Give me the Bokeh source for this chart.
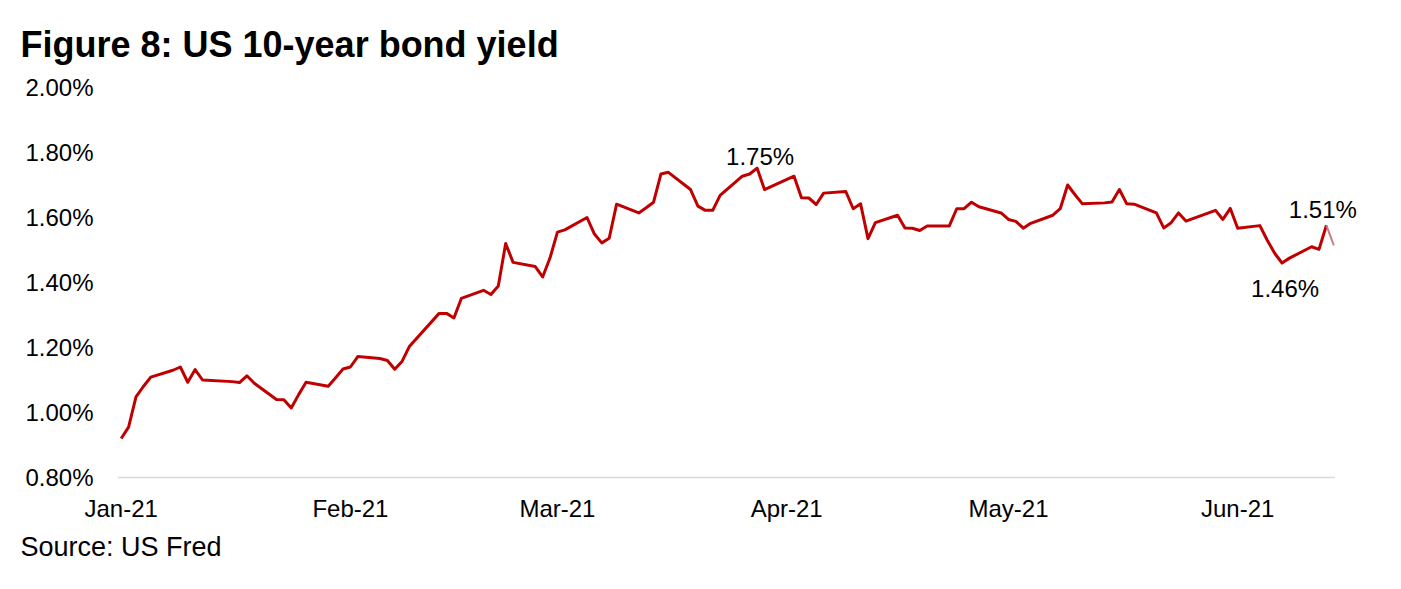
from datetime import datetime
from bokeh.plotting import figure
from bokeh.models import (FixedTicker, PrintfTickFormatter, DatetimeTickFormatter,
                          Label, Range1d, Title)
from bokeh.embed import file_html
from bokeh.resources import INLINE

# ---------------- data ----------------
dates = [
    "2021-01-04", "2021-01-05", "2021-01-06", "2021-01-07", "2021-01-08",
    "2021-01-11", "2021-01-12", "2021-01-13", "2021-01-14", "2021-01-15",
    "2021-01-19", "2021-01-20", "2021-01-21", "2021-01-22",
    "2021-01-25", "2021-01-26", "2021-01-27", "2021-01-28", "2021-01-29",
    "2021-02-01", "2021-02-02", "2021-02-03", "2021-02-04", "2021-02-05",
    "2021-02-08", "2021-02-09", "2021-02-10", "2021-02-11", "2021-02-12",
    "2021-02-16", "2021-02-17", "2021-02-18", "2021-02-19",
    "2021-02-22", "2021-02-23", "2021-02-24", "2021-02-25", "2021-02-26",
    "2021-03-01", "2021-03-02", "2021-03-03", "2021-03-04", "2021-03-05",
    "2021-03-08", "2021-03-09", "2021-03-10", "2021-03-11", "2021-03-12",
    "2021-03-15", "2021-03-16", "2021-03-17", "2021-03-18", "2021-03-19",
    "2021-03-22", "2021-03-23", "2021-03-24", "2021-03-25", "2021-03-26",
    "2021-03-29", "2021-03-30", "2021-03-31", "2021-04-01",
    "2021-04-05", "2021-04-06", "2021-04-07", "2021-04-08", "2021-04-09",
    "2021-04-12", "2021-04-13", "2021-04-14", "2021-04-15", "2021-04-16",
    "2021-04-19", "2021-04-20", "2021-04-21", "2021-04-22", "2021-04-23",
    "2021-04-26", "2021-04-27", "2021-04-28", "2021-04-29", "2021-04-30",
    "2021-05-03", "2021-05-04", "2021-05-05", "2021-05-06", "2021-05-07",
    "2021-05-10", "2021-05-11", "2021-05-12", "2021-05-13", "2021-05-14",
    "2021-05-17", "2021-05-18", "2021-05-19", "2021-05-20", "2021-05-21",
    "2021-05-24", "2021-05-25", "2021-05-26", "2021-05-27", "2021-05-28",
    "2021-06-01", "2021-06-02", "2021-06-03", "2021-06-04",
    "2021-06-07", "2021-06-08", "2021-06-09", "2021-06-10", "2021-06-11",
    "2021-06-14", "2021-06-15", "2021-06-16", "2021-06-17",
]
yields = [
    0.92, 0.955, 1.048, 1.08, 1.109,
    1.13, 1.14, 1.093, 1.132, 1.10,
    1.095, 1.092, 1.113, 1.09,
    1.04, 1.039, 1.014, 1.055, 1.093,
    1.081, 1.107, 1.134, 1.14, 1.172,
    1.166, 1.16, 1.133, 1.158, 1.204,
    1.305, 1.305, 1.291, 1.351,
    1.376, 1.363, 1.389, 1.52, 1.462,
    1.449, 1.417, 1.476, 1.555, 1.562,
    1.60, 1.549, 1.522, 1.536, 1.641,
    1.614, 1.63, 1.647, 1.734, 1.739,
    1.686, 1.635, 1.622, 1.622, 1.668,
    1.727, 1.734, 1.752, 1.686,
    1.727, 1.661, 1.66, 1.64, 1.675,
    1.68, 1.627, 1.642, 1.535, 1.584,
    1.607, 1.568, 1.567, 1.56, 1.574,
    1.574, 1.627, 1.627, 1.647, 1.633,
    1.614, 1.594, 1.588, 1.567, 1.582,
    1.607, 1.627, 1.70, 1.67, 1.642,
    1.645, 1.648, 1.686, 1.642, 1.641,
    1.614, 1.568, 1.584, 1.614, 1.589,
    1.622, 1.594, 1.628, 1.567,
    1.575, 1.53, 1.49, 1.46, 1.475,
    1.51, 1.502, 1.576, 1.514,
]
month_ticks = ["2021-01-04", "2021-02-04", "2021-03-04",
               "2021-04-04", "2021-05-04", "2021-06-04"]
y_ticks = [0.8, 1.0, 1.2, 1.4, 1.6, 1.8, 2.0]
y_min, y_max = 0.8, 2.0
title_text = "Figure 8: US 10-year bond yield"
source_text = "Source: US Fred"

# ---------------- helpers ----------------
EPOCH = datetime(1970, 1, 1)
DAY_MS = 86400000.0


def to_ms(s):
    d = datetime.strptime(s, "%Y-%m-%d") if isinstance(s, str) else s
    return (d - EPOCH).total_seconds() * 1000.0


xs = [to_ms(d) for d in dates]
FONT = "Liberation Sans"
RED = "#C00000"

W, H = 1385, 573
FRAME_L, FRAME_T, FRAME_R, FRAME_B = 117, 87, 1380, 479
PX_PER_UNIT = 325.0
PX_PER_DAY = 7.394

x_start = xs[0] - 0.5 * DAY_MS
x_end = x_start + (FRAME_R - FRAME_L) / PX_PER_DAY * DAY_MS
axis_end = xs[-1] + 0.15 * DAY_MS
y_start = y_min - 2.0 / PX_PER_UNIT

p = figure(width=W, height=H, x_axis_type="datetime",
           output_backend="svg", toolbar_location=None,
           x_range=Range1d(x_start, x_end),
           y_range=Range1d(y_start, y_max),
           min_border_left=FRAME_L, min_border_right=W - FRAME_R,
           min_border_top=FRAME_T, min_border_bottom=H - FRAME_B)
p.outline_line_color = None
p.xgrid.visible = False
p.ygrid.visible = False
p.background_fill_color = "white"
p.border_fill_color = "white"

# x axis baseline (spans only the data period, like the reference)
p.line([x_start, axis_end], [y_min, y_min], line_color="#D9D9D9", line_width=1.5)

# main series (last segment drawn lighter as in the reference)
p.line(xs[:-1], yields[:-1], line_color=RED, line_width=3, line_join="round")
p.line(xs[-2:], yields[-2:], line_color="#C88080", line_width=2.0)

# x axis
xa = p.xaxis[0]
xa.ticker = FixedTicker(ticks=[to_ms(t) for t in month_ticks])
fmt = "%b-%y"
xa.formatter = DatetimeTickFormatter(days=fmt, months=fmt, years=fmt,
                                     hours=fmt, minutes=fmt, seconds=fmt,
                                     milliseconds=fmt, minsec=fmt, hourmin=fmt)
xa.axis_line_color = None
xa.major_tick_line_color = None
xa.minor_tick_line_color = None
xa.major_tick_out = 0
xa.major_tick_in = 0
xa.major_label_standoff = 15
xa.major_label_text_font = FONT
xa.major_label_text_font_size = "24px"
xa.major_label_text_color = "black"

# y axis
ya = p.yaxis[0]
ya.ticker = FixedTicker(ticks=y_ticks)
ya.formatter = PrintfTickFormatter(format="%.2f%%")
ya.axis_line_color = None
ya.major_tick_line_color = None
ya.minor_tick_line_color = None
ya.major_tick_out = 0
ya.major_tick_in = 0
ya.major_label_standoff = 24
ya.major_label_text_font = FONT
ya.major_label_text_font_size = "24px"
ya.major_label_text_color = "black"

# value annotations: peak, June trough and last value
i_max = max(range(len(yields)), key=lambda i: yields[i])
i_min = min(range(len(yields) - 20, len(yields)), key=lambda i: yields[i])
i_last = len(yields) - 1
for i, dx, dy in [(i_max, 3, -12), (i_min, 3, 25), (i_last, -11, -36)]:
    p.add_layout(Label(x=xs[i], y=yields[i], text=f"{yields[i]:.2f}%",
                       x_offset=dx, y_offset=-dy,
                       text_align="center", text_baseline="alphabetic",
                       text_font=FONT, text_font_size="24px", text_color="black"))

# title and source
p.title.text = title_text
p.title.align = "left"
p.title.vertical_align = "top"
p.title.offset = 20 - FRAME_L
p.title.standoff = 41
p.title.text_font = FONT
p.title.text_font_size = "36px"
p.title.text_font_style = "bold"
p.title.text_color = "black"

src = Title(text=source_text, align="left", offset=20 - FRAME_L, standoff=10,
            text_font=FONT, text_font_size="27px", text_font_style="normal",
            text_color="black")
p.add_layout(src, "below")

open("out.html", "w").write(file_html(p, INLINE))
